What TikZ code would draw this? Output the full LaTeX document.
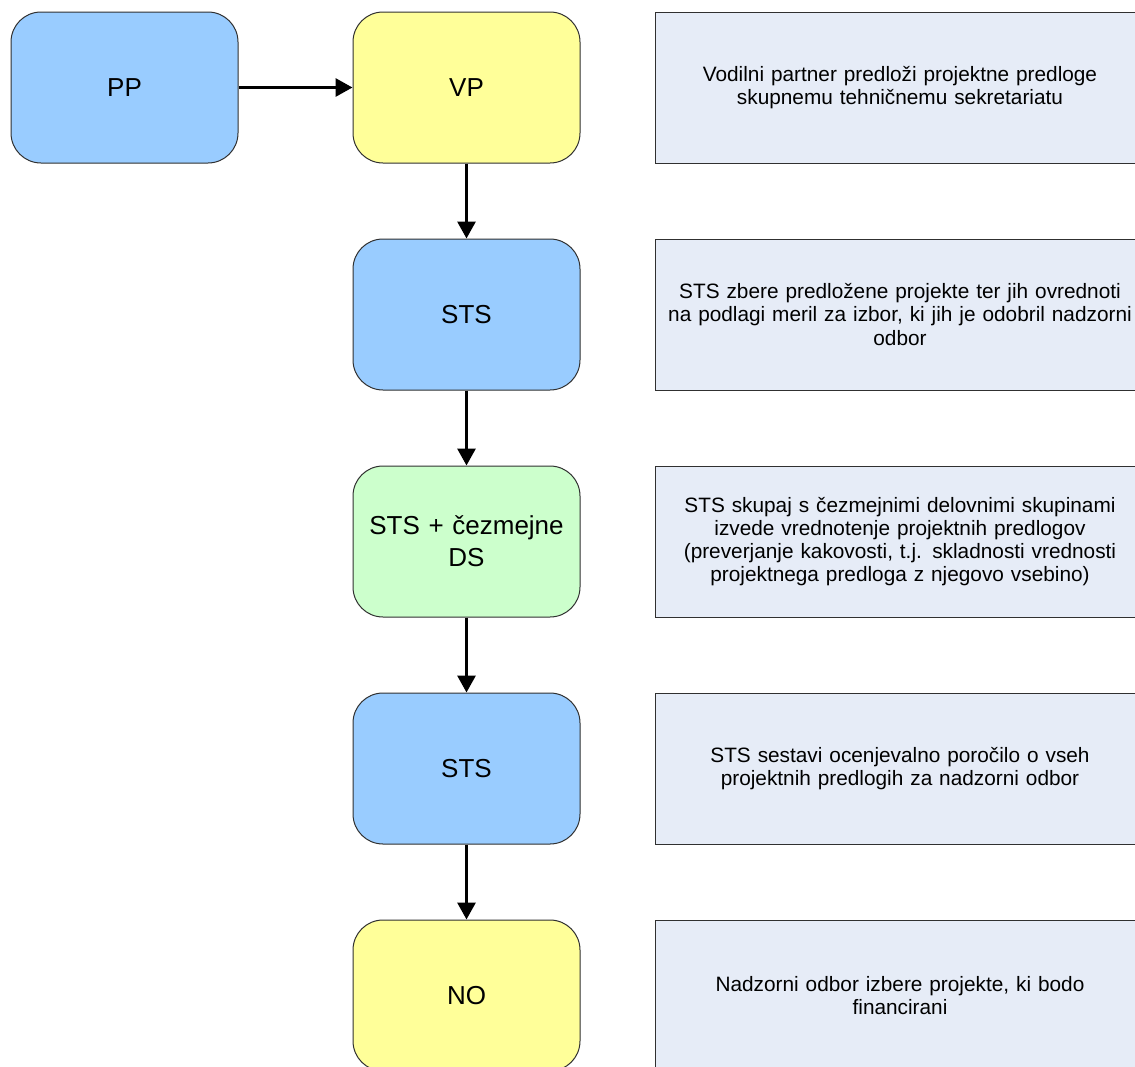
\documentclass[tikz,border=0pt]{standalone}
\usepackage{fontspec}
\setmainfont{Liberation Sans}
\usepackage{tikz}
\usetikzlibrary{positioning, arrows.meta}

\definecolor{stepblue}{HTML}{99CCFF}
\definecolor{stepyellow}{HTML}{FFFF99}
\definecolor{stepgreen}{HTML}{CCFFCC}
\definecolor{notefill}{HTML}{E6ECF7}
\definecolor{edgegray}{HTML}{303030}

\begin{document}
\begin{tikzpicture}[node distance=37.5pt, thick]
        % Styles for the boxes
        \tikzstyle{actor} = [rectangle, draw=edgegray, line width=0.5pt, fill=stepblue, minimum width=113.5pt, minimum height=75.5pt, text width=100pt, align=center, rounded corners=15pt, font=\fontsize{13}{16}\selectfont]
        \tikzstyle{note} = [rectangle, draw=edgegray, line width=0.5pt, fill=notefill, minimum width=245pt, minimum height=75.5pt, text width=238pt, align=center, font=\fontsize{10.4}{11.6}\selectfont]
        \tikzstyle{flow} = [line width=1.5pt, -{Triangle[length=8.5pt, width=9pt]}]

        \useasboundingbox (0,0) rectangle (567.5pt,-533pt);

        % Place actor nodes
        \node [actor] (pp) at (62.25pt,-43.75pt) {PP};
        \node [actor, fill=stepyellow, right=57pt of pp] (vp) {VP};
        \node [actor, below=of vp] (sts) {STS};
        \node [actor, fill=stepgreen, below=of sts] (stsds) {STS + čezmejne\\DS};
        \node [actor, below=of stsds] (report) {STS};
        \node [actor, fill=stepyellow, below=of report] (no) {NO};

        % Place notes beside the column
        \node [note, right=37pt of vp] (notevp) {Vodilni partner predloži projektne predloge\\skupnemu tehničnemu sekretariatu};
        \node [note, right=37pt of sts] (notests) {STS zbere predložene projekte ter jih ovrednoti\\na podlagi meril za izbor, ki jih je odobril nadzorni\\odbor};
        \node [note, right=37pt of stsds] (notestsds) {STS skupaj s čezmejnimi delovnimi skupinami\\izvede vrednotenje projektnih predlogov\\(preverjanje kakovosti, t.j. skladnosti vrednosti\\projektnega predloga z njegovo vsebino)};
        \node [note, right=37pt of report] (notereport) {STS sestavi ocenjevalno poročilo o vseh\\projektnih predlogih za nadzorni odbor};
        \node [note, right=37pt of no] (noteno) {Nadzorni odbor izbere projekte, ki bodo\\financirani};

        % Draw the flow
        \draw [flow] (pp) -- (vp);
        \draw [flow] (vp) -- (sts);
        \draw [flow] (sts) -- (stsds);
        \draw [flow] (stsds) -- (report);
        \draw [flow] (report) -- (no);

    \end{tikzpicture}
\end{document}
